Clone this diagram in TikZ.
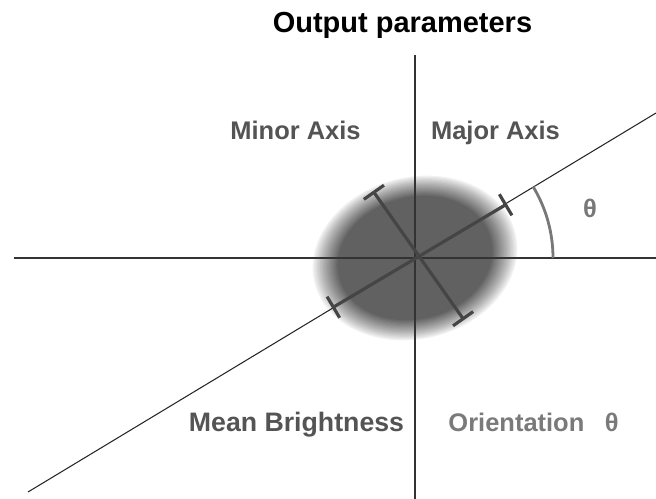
\documentclass[tikz,border=0pt]{standalone}
\usepackage{fontspec}
\setmainfont{Liberation Sans}
\usepackage{xcolor}
\usetikzlibrary{arrows.meta,calc}

\definecolor{blobgray}{gray}{0.38}
\definecolor{seggray}{gray}{0.27}
\definecolor{labgray}{gray}{0.33}
\definecolor{oriegray}{gray}{0.48}
\definecolor{arcgray}{gray}{0.47}

\begin{document}
\begin{tikzpicture}[
  x=0.02cm, y=-0.02cm,
  axis/.style={draw=black!80, line width=1.3pt},
  diag/.style={draw=black!85, line width=0.6pt},
  seg/.style={draw=seggray, line width=1.8pt, arrows={Bar[width=14pt,line width=1.8pt]-Bar[width=14pt,line width=1.8pt]}},
  arcl/.style={draw=arcgray, line width=1.6pt},
  lbl/.style={font=\fontsize{14.5}{16}\selectfont\bfseries, text=labgray, inner sep=0pt, anchor=base},
  ttl/.style={font=\fontsize{16.5}{18}\selectfont\bfseries, text=black, inner sep=0pt, anchor=base}
]
  \useasboundingbox (0,0) rectangle (656,499);

  % centre and axes
  \coordinate (o) at (415,258);
  \coordinate (hl) at (14,258);
  \coordinate (hr) at (656,258);
  \coordinate (vt) at (415,55);
  \coordinate (vb) at (415,499);
  \coordinate (dl) at (28,492);
  \coordinate (dr) at (656,113);

  % blurred spot, built up from nested ellipses
  \begin{scope}[transform canvas={rotate around={14:(o)}}]
    \foreach \k in {0,...,24} {
      \pgfmathsetmacro\s{1-0.34*\k/24}
      \pgfmathsetmacro\p{int(min(100,100*(\k/18)^0.85))}
      \fill[blobgray!\p!white] (o) ellipse [x radius=105*\s, y radius=82*\s];
    }
  \end{scope}

  \draw[axis] (hl) -- (hr);
  \draw[axis] (vt) -- (vb);
  \draw[diag] (dl) -- (dr);

  % major and minor axis
  \coordinate (mj1) at (332,308);
  \coordinate (mj2) at (507,204);
  \coordinate (mn1) at (373,191);
  \coordinate (mn2) at (464,320);
  \draw[seg] (mj1) -- (mj2);
  \draw[seg] (mn1) -- (mn2);

  % angle
  \coordinate (a0) at ($(o)+(138,0)$);
  \draw[arcl] (a0) arc[start angle=0, end angle=-31, radius=138];
  \node[lbl, text=arcgray] (th) at (590,218) {θ};

  % labels
  \node[ttl] (title) at (402.5,33) {Output parameters};
  \node[lbl] (minor) at (295.5,140) {Minor Axis};
  \node[lbl] (major) at (495.5,140) {Major Axis};
  \node[lbl, font=\fontsize{15.2}{17}\selectfont\bfseries] (mean) at (296.5,432) {Mean Brightness};
  \node[lbl, text=oriegray] (orient) at (533.5,432) {Orientation\hspace{0.8em}θ};
\end{tikzpicture}
\end{document}
